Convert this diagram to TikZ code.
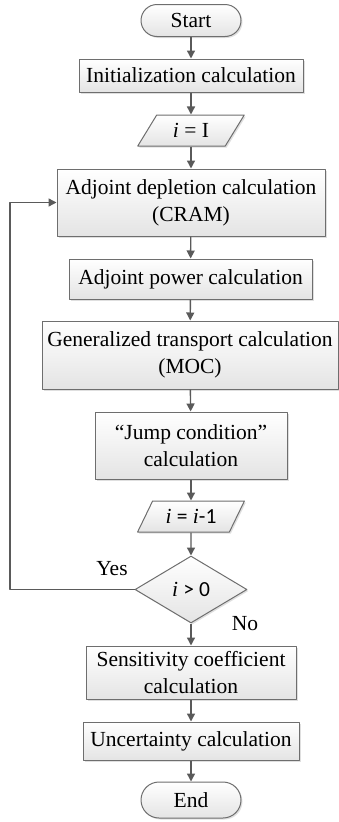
\documentclass[tikz,border=0pt]{standalone}
\usepackage{fontspec}
\setmainfont{Liberation Serif}
\newfontfamily\calfont{Carlito}
\usetikzlibrary{arrows.meta,shapes.geometric,shapes.misc,shadows}
\definecolor{edgegray}{RGB}{110,110,110}
\definecolor{arrowgray}{RGB}{90,90,90}
\definecolor{boxbottom}{RGB}{228,228,228}
\begin{document}
\begin{tikzpicture}[x=1pt,y=1pt,line join=round,>={Triangle[length=8pt,width=8pt]},
    font=\fontsize{21.5}{27}\selectfont,
    box/.style={draw=edgegray,line width=1pt,top color=white,bottom color=boxbottom,
        drop shadow={shadow xshift=1.5pt,shadow yshift=-1.5pt,opacity=0.25},
        align=center,inner sep=0pt},
    term/.style={box,rounded rectangle,minimum width=100,minimum height=32},
    proc/.style={box,rectangle},
    io/.style={box,trapezium,trapezium left angle=55,trapezium right angle=125,
        trapezium stretches=true,minimum width=107,minimum height=31},
    test/.style={box,diamond,minimum width=112,minimum height=67,aspect=1.67},
    flow/.style={->,draw=arrowgray,line width=1.4pt}]
    \useasboundingbox (0,0) rectangle (339,-822);
    % nodes
    \node[term] (start) at (191,-20.5) {Start};
    \node[proc,minimum width=224,minimum height=33] (init) at (191,-75.5) {Initialization calculation};
    \node[io] (seti) at (191,-130.5) {\itshape i\upshape\ = I};
    \node[proc,minimum width=268,minimum height=67] (dep) at (191,-202.5) {Adjoint depletion calculation\\(CRAM)};
    \node[proc,minimum width=243,minimum height=40] (pow) at (190.5,-279) {Adjoint power calculation};
    \node[proc,minimum width=296,minimum height=68] (gen) at (190,-355) {Generalized transport calculation\\(MOC)};
    \node[proc,minimum width=192,minimum height=67] (jump) at (191,-445.5) {``Jump condition''\\calculation};
    \node[io] (deci) at (191,-516.5) {\itshape i\upshape\ {\calfont =} \itshape i\upshape{\calfont -1}};
    \node[test] (cond) at (191,-589.5) {\itshape i\upshape\ {\calfont > 0}};
    \node[proc,minimum width=210,minimum height=53] (sens) at (191,-672.5) {Sensitivity coefficient\\calculation};
    \node[proc,minimum width=216,minimum height=38] (unc) at (191,-741) {Uncertainty calculation};
    \node[term,minimum height=36] (stop) at (191,-800) {End};
    \coordinate (back) at (10,-589.5);
    % connectors
    \draw[flow] (start) -- (init);
    \draw[flow] (init) -- (seti);
    \draw[flow] (seti) -- (dep);
    \draw[flow] (dep) -- (pow);
    \draw[flow] (pow) -- (gen);
    \draw[flow] (gen) -- (jump);
    \draw[flow] (jump) -- (deci);
    \draw[flow] (deci) -- (cond);
    \draw[flow] (cond) -- (sens);
    \draw[flow] (sens) -- (unc);
    \draw[flow] (unc) -- (stop);
    \draw[flow] (cond.west) -- (back) |- (dep.west);
    \node (yes) at (112,-569) {Yes};
    \node (no) at (245,-624) {No};
\end{tikzpicture}
\end{document}
